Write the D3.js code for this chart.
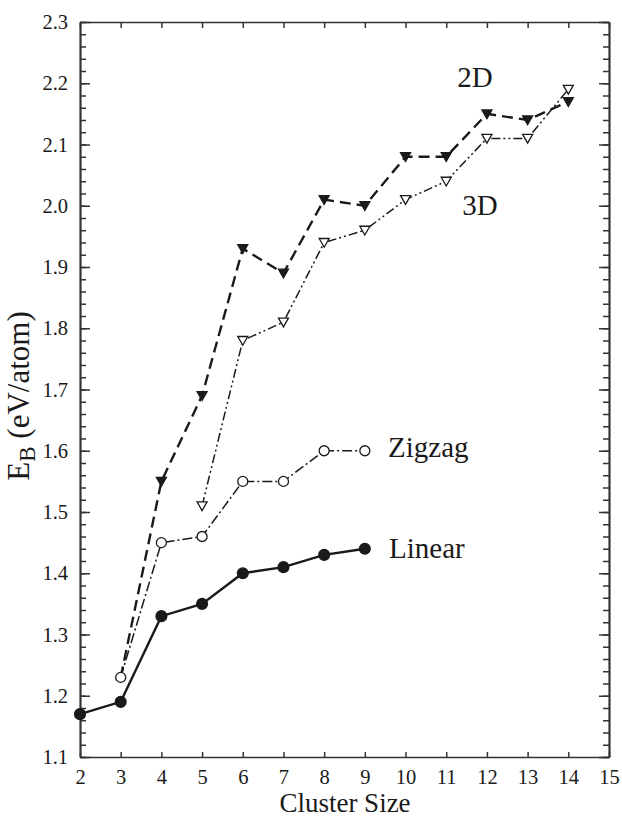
<!DOCTYPE html>
<html>
<head>
<meta charset="utf-8">
<script src="https://cdn.jsdelivr.net/npm/d3@7"></script>
<style>
  html, body { margin: 0; padding: 0; background: #fff; }
  svg { display: block; }
</style>
</head>
<body>
<svg id="chart" width="622" height="819"></svg>
<script>
// Binding energy per atom vs. cluster size for four structural families
const sizesLinear = [2, 3, 4, 5, 6, 7, 8, 9];
const ebLinear    = [1.17, 1.19, 1.33, 1.35, 1.40, 1.41, 1.43, 1.44];

const sizesZigzag = [3, 4, 5, 6, 7, 8, 9];
const ebZigzag    = [1.23, 1.45, 1.46, 1.55, 1.55, 1.60, 1.60];

const sizes2D = [3, 4, 5, 6, 7, 8, 9, 10, 11, 12, 13, 14];
const eb2D    = [1.23, 1.55, 1.69, 1.93, 1.89, 2.01, 2.00, 2.08, 2.08, 2.15, 2.14, 2.17];

const sizes3D = [5, 6, 7, 8, 9, 10, 11, 12, 13, 14];
const eb3D    = [1.51, 1.78, 1.81, 1.94, 1.96, 2.01, 2.04, 2.11, 2.11, 2.19];

const xTicks = [2, 3, 4, 5, 6, 7, 8, 9, 10, 11, 12, 13, 14, 15];
const yTicks = [1.1, 1.2, 1.3, 1.4, 1.5, 1.6, 1.7, 1.8, 1.9, 2.0, 2.1, 2.2, 2.3];

const svg = d3.select("#chart");
const ink = "#1a1a1a";
const frame = "#333";
const serif = "'Liberation Serif', 'Times New Roman', serif";

const plotLeft = 80, plotRight = 609, plotTop = 22, plotBottom = 757;
const x = d3.scaleLinear().domain([2, 15]).range([plotLeft, plotRight]);
const y = d3.scaleLinear().domain([1.1, 2.3]).range([plotBottom, plotTop]);

const yMinor = d3.range(1.1, 2.3001, 0.02).map(v => +v.toFixed(2));

// Axes on all four sides, ticks pointing inward
const axisStyle = g => {
  g.selectAll("path.domain").attr("stroke", frame).attr("stroke-width", 1.7);
  g.selectAll(".tick line").attr("stroke", frame).attr("stroke-width", 1.5);
  g.selectAll("text").style("font-family", serif).style("font-size", "20.5px").attr("fill", ink);
};

// bottom
svg.append("g").attr("transform", `translate(0,${plotBottom})`)
  .call(d3.axisBottom(x).tickValues(xTicks).tickSizeInner(-5).tickSizeOuter(0).tickPadding(12).tickFormat(d3.format("d")))
  .call(axisStyle);

// top
svg.append("g").attr("transform", `translate(0,${plotTop})`)
  .call(d3.axisTop(x).tickValues(xTicks).tickSizeInner(-6).tickSizeOuter(0).tickFormat(""))
  .call(axisStyle);

// left: minor then major ticks
svg.append("g").attr("transform", `translate(${plotLeft},0)`)
  .call(d3.axisLeft(y).tickValues(yMinor).tickSizeInner(-6).tickSizeOuter(0).tickFormat(""))
  .call(axisStyle);
svg.append("g").attr("transform", `translate(${plotLeft},0)`)
  .call(d3.axisLeft(y).tickValues(yTicks).tickSizeInner(-10).tickSizeOuter(0).tickPadding(12).tickFormat(d3.format(".1f")))
  .call(axisStyle);

// right
svg.append("g").attr("transform", `translate(${plotRight},0)`)
  .call(d3.axisRight(y).tickValues(yMinor).tickSizeInner(-6).tickSizeOuter(0).tickFormat(""))
  .call(axisStyle);
svg.append("g").attr("transform", `translate(${plotRight},0)`)
  .call(d3.axisRight(y).tickValues(yTicks).tickSizeInner(-10).tickSizeOuter(0).tickFormat(""))
  .call(axisStyle);

// Axis titles
svg.append("text")
  .attr("x", 345).attr("y", 812)
  .attr("text-anchor", "middle")
  .style("font-family", serif).style("font-size", "27px").attr("fill", ink)
  .text("Cluster Size");

const yTitle = svg.append("text")
  .attr("transform", `translate(29,396) rotate(-90)`)
  .attr("text-anchor", "middle")
  .style("font-family", serif).style("font-size", "31px").attr("fill", ink);
yTitle.append("tspan").text("E");
yTitle.append("tspan").style("font-size", "23px").attr("dy", 6).text("B");
yTitle.append("tspan").attr("dy", -6).text(" (eV/atom)");

// Series
const line = d3.line().x(d => x(d[0])).y(d => y(d[1]));
const pts = (xs, ys) => xs.map((v, i) => [v, ys[i]]);

const series = [
  { key: "3D", data: pts(sizes3D, eb3D), width: 1.5, dash: "9,3,2,3,2,3", marker: "triOpen" },
  { key: "2D", data: pts(sizes2D, eb2D), width: 2.4, dash: "11,6", marker: "triFilled", markerFrom: 1 },
  { key: "Zigzag", data: pts(sizesZigzag, ebZigzag), width: 1.5, dash: "10,3,2,3", marker: "circOpen" },
  { key: "Linear", data: pts(sizesLinear, ebLinear), width: 2.4, dash: null, marker: "circFilled" }
];

const triPath = s => `M${-s},${-s * 0.8} L${s},${-s * 0.8} L0,${s * 0.95} Z`;

series.forEach(sr => {
  svg.append("path")
    .datum(sr.data)
    .attr("fill", "none")
    .attr("stroke", ink)
    .attr("stroke-width", sr.width)
    .attr("stroke-dasharray", sr.dash)
    .attr("d", line);

  const g = svg.append("g");
  const mk = sr.data.slice(sr.markerFrom || 0);
  if (sr.marker === "circFilled" || sr.marker === "circOpen") {
    g.selectAll("circle").data(mk).join("circle")
      .attr("cx", d => x(d[0])).attr("cy", d => y(d[1]))
      .attr("r", sr.marker === "circFilled" ? 5.4 : 5)
      .attr("fill", sr.marker === "circFilled" ? ink : "#fff")
      .attr("stroke", ink).attr("stroke-width", 1.3);
  } else {
    g.selectAll("path").data(mk).join("path")
      .attr("transform", d => `translate(${x(d[0])},${y(d[1])})`)
      .attr("d", triPath(5))
      .attr("fill", sr.marker === "triFilled" ? ink : "#fff")
      .attr("stroke", ink).attr("stroke-width", 1.3);
  }
});

// Series labels
const labels = [
  { text: "2D", x: 475, y: 87 },
  { text: "3D", x: 480, y: 215 },
  { text: "Zigzag", x: 388, y: 457, anchor: "start" },
  { text: "Linear", x: 389, y: 558, anchor: "start" }
];
svg.selectAll("text.series-label").data(labels).join("text")
  .attr("class", "series-label")
  .attr("x", d => d.x).attr("y", d => d.y)
  .attr("text-anchor", d => d.anchor || "middle")
  .style("font-family", serif).style("font-size", "29px").attr("fill", ink)
  .text(d => d.text);
</script>
</body>
</html>
